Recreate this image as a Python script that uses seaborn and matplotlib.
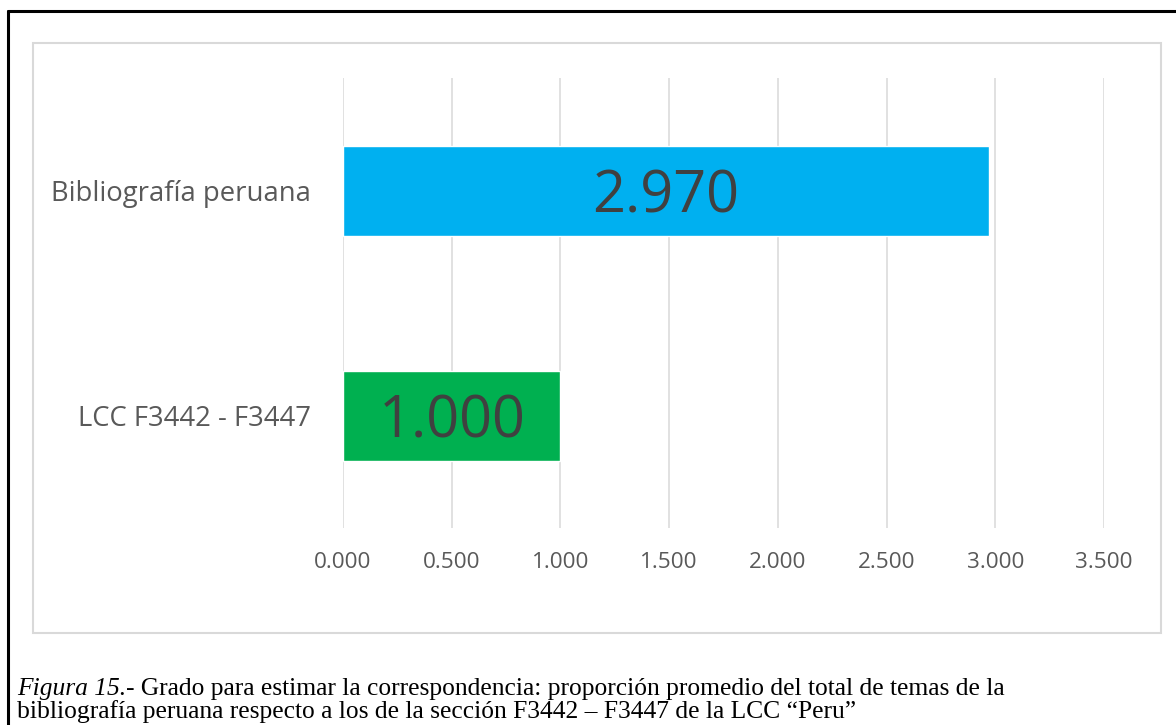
import matplotlib
matplotlib.use("Agg")
import matplotlib.pyplot as plt
from matplotlib.patches import Rectangle
from matplotlib.lines import Line2D
import pandas as pd
import seaborn as sns

categories = ["Bibliografía peruana", "LCC F3442 - F3447"]
values = [2.970, 1.000]
bar_colors = ["#00B0F0", "#00B050"]
x_ticks = [0.0, 0.5, 1.0, 1.5, 2.0, 2.5, 3.0, 3.5]
caption_italic = "Figura 15."
caption_rest = "- Grado para estimar la correspondencia: proporción promedio del total de temas de la"
caption_line2 = "bibliografía peruana respecto a los de la sección F3442 – F3447 de la LCC “Peru”"

sns.set_style("white")
plt.rcParams["font.family"] = ["Open Sans", "DejaVu Sans"]

df = pd.DataFrame({"cat": categories, "val": values})

fig = plt.figure(figsize=(11.76, 7.25), dpi=100)
fig.patch.set_facecolor("white")

# outer black frame (only top and left visible in the crop)
fig.add_artist(Line2D([8 / 1176, 1.0], [1 - 11 / 725, 1 - 11 / 725],
                      transform=fig.transFigure, color="black", lw=2.2))
fig.add_artist(Line2D([8 / 1176, 8 / 1176], [0.0, 1 - 11 / 725],
                      transform=fig.transFigure, color="black", lw=2.2))

# chart area light border, behind the axes
fig.add_artist(Rectangle((33 / 1176, 1 - 633 / 725), (1161 - 33) / 1176, (633 - 43) / 725,
                         transform=fig.transFigure, facecolor="white",
                         edgecolor="#d9d9d9", lw=1.5, zorder=-5))

ax = fig.add_axes([343 / 1176, 1 - 528 / 725, (1104 - 343) / 1176, 450 / 725])
ax.set_facecolor("none")
ax.set_zorder(2)
sns.barplot(data=df, x="val", y="cat", hue="cat", palette=bar_colors,
            width=0.4, orient="h", legend=False, ax=ax, saturation=1)

ax.set_xlim(0, 3.5)
ax.set_ylim(1.5, -0.5)
ax.set_xticks(x_ticks)
ax.set_xticklabels([f"{t:.3f}" for t in x_ticks])
ax.xaxis.grid(True, color="#d9d9d9", lw=1.1)
ax.set_axisbelow(True)
for s in ax.spines.values():
    s.set_visible(False)
ax.tick_params(axis="x", length=0, pad=17, labelsize=16.2, labelcolor="#595959")
ax.tick_params(axis="y", length=0, pad=23, labelsize=19.8, labelcolor="#595959")
ax.set_xlabel("")
ax.set_ylabel("")

for i, v in enumerate(values):
    ax.text(v / 2, i, f"{v:.3f}", ha="center", va="center_baseline",
            fontsize=41.5, color="#404040")

# caption
cap_size = 18.4
t1 = fig.text(17 / 1176, 1 - 695 / 725, caption_italic, family="Liberation Serif",
              style="italic", fontsize=cap_size, color="black", va="baseline")
fig.text(17 / 1176, 1 - 718 / 725, caption_line2, family="Liberation Serif",
         fontsize=cap_size, color="black", va="baseline")
fig.add_artist(plt.Annotation(caption_rest, xy=(1, 0), xycoords=t1, va="bottom", ha="left",
                              family="Liberation Serif", fontsize=cap_size, color="black",
                              annotation_clip=False))

fig.savefig("out.png", dpi=100, facecolor="white")
